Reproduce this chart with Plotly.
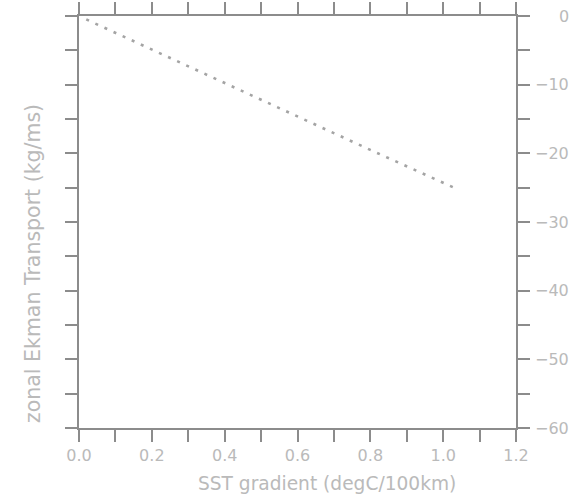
import plotly.graph_objects as go

# SST gradient (degC/100km) vs zonal Ekman transport (kg/ms)
sst_gradient = [0.02, 0.2, 0.4, 0.6, 0.8, 1.03]
ekman_transport = [-0.5, -4.9, -9.8, -14.6, -19.5, -25.0]

x_range = [0.0, 1.2]
y_range = [-60, 0]
y_label_vals = [0, -10, -20, -30, -40, -50, -60]

AXIS = "#8c8c8c"
TEXT = "#bababa"
FONT = "DejaVu Sans"

fig = go.Figure()
fig.add_trace(go.Scatter(
    x=sst_gradient, y=ekman_transport, mode="lines",
    line=dict(color="#a4a4a4", width=2.6, dash="3px,7px"),
    hoverinfo="skip", showlegend=False,
))

fig.update_layout(
    template="none",
    width=578, height=496,
    margin=dict(l=79, r=62, t=16, b=68, autoexpand=False),
    paper_bgcolor="white", plot_bgcolor="white",
    font=dict(family=FONT, color=TEXT, size=16),
    xaxis=dict(
        range=x_range, dtick=0.2, tick0=0, tickformat=".1f",
        showgrid=False, zeroline=False, automargin=False,
        showline=True, linecolor=AXIS, linewidth=2, mirror="ticks",
        ticks="outside", ticklen=12, tickwidth=2, tickcolor=AXIS,
        minor=dict(dtick=0.1, ticks="outside", ticklen=12, tickwidth=2,
                   tickcolor=AXIS, showgrid=False),
        tickfont=dict(family=FONT, color=TEXT, size=16),
        ticklabelstandoff=0,
    ),
    yaxis=dict(
        range=y_range, dtick=10, tick0=0, side="right",
        showgrid=False, zeroline=False, showticklabels=False,
        automargin=False,
        showline=True, linecolor=AXIS, linewidth=2, mirror="ticks",
        ticks="outside", ticklen=12, tickwidth=2, tickcolor=AXIS,
        minor=dict(dtick=5, ticks="outside", ticklen=12, tickwidth=2,
                   tickcolor=AXIS, showgrid=False),
    ),
)

# right-aligned value labels on the right-hand axis
for v in y_label_vals:
    fig.add_annotation(
        x=1.0 + (571 - 516) / 437, xref="paper", xanchor="right",
        y=v, yref="y", yanchor="middle",
        text="\u2212" + str(abs(v)) if v < 0 else str(v),
        showarrow=False, font=dict(family=FONT, color=TEXT, size=16),
    )

# axis titles
fig.add_annotation(
    x=(327 - 79) / 437, xref="paper", y=-(483 - 428) / 412, yref="paper",
    xanchor="center", yanchor="middle", text="SST gradient (degC/100km)",
    showarrow=False, font=dict(family=FONT, color=TEXT, size=18.6),
)
fig.add_annotation(
    x=-(79 - 33) / 437, xref="paper", y=1 - (264 - 16) / 412, yref="paper",
    xanchor="center", yanchor="middle", text="zonal Ekman Transport (kg/ms)",
    textangle=-90, showarrow=False,
    font=dict(family=FONT, color=TEXT, size=20.5),
)

fig.write_html("out.html")
